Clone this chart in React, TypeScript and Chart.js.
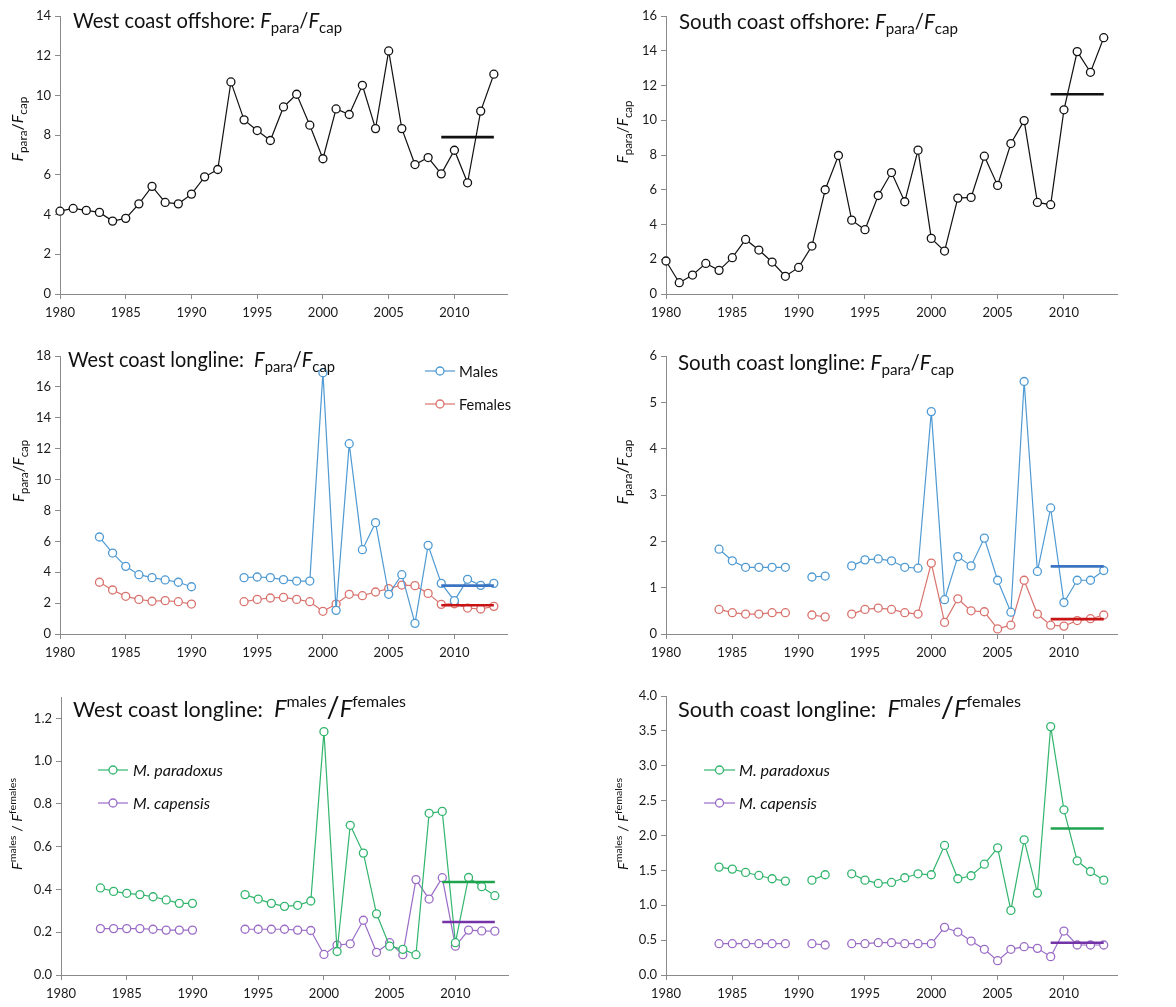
import React, { useEffect, useRef } from 'react';
import { Chart, registerables } from 'chart.js';

Chart.register(...registerables);

const FONT = 'Lato, "Open Sans", "DejaVu Sans", sans-serif';

// ---------- data ----------
const years = [
  1980, 1981, 1982, 1983, 1984, 1985, 1986, 1987, 1988, 1989,
  1990, 1991, 1992, 1993, 1994, 1995, 1996, 1997, 1998, 1999,
  2000, 2001, 2002, 2003, 2004, 2005, 2006, 2007, 2008, 2009,
  2010, 2011, 2012, 2013,
];

const xTicks = [1980, 1985, 1990, 1995, 2000, 2005, 2010];

const westOffshore = [
  4.17, 4.31, 4.21, 4.11, 3.67, 3.81, 4.54, 5.42, 4.61, 4.54,
  5.03, 5.9, 6.27, 10.68, 8.77, 8.23, 7.73, 9.42, 10.06, 8.5,
  6.81, 9.32, 9.04, 10.51, 8.33, 12.24, 8.33, 6.52, 6.87, 6.05,
  7.24, 5.6, 9.21, 11.07,
];
const southOffshore = [
  1.9, 0.65, 1.09, 1.76, 1.36, 2.09, 3.14, 2.53, 1.84, 1.02,
  1.53, 2.76, 6.0, 7.97, 4.25, 3.7, 5.67, 6.99, 5.31, 8.28,
  3.2, 2.47, 5.52, 5.56, 7.93, 6.25, 8.66, 9.98, 5.27, 5.14,
  10.6, 13.95, 12.76, 14.75,
];
const westLonglineMales = [
  null, null, null, 6.28, 5.24, 4.38, 3.84, 3.65, 3.5, 3.35,
  3.06, null, null, null, 3.65, 3.69, 3.65, 3.52, 3.43, 3.43,
  16.92, 1.53, 12.32, 5.46, 7.21, 2.57, 3.84, 0.69, 5.74, 3.28,
  2.16, 3.54, 3.15, 3.28,
];
const westLonglineFemales = [
  null, null, null, 3.35, 2.85, 2.44, 2.24, 2.12, 2.16, 2.09,
  1.94, null, null, null, 2.09, 2.24, 2.33, 2.37, 2.24, 2.09,
  1.47, 1.94, 2.57, 2.48, 2.72, 2.94, 3.17, 3.13, 2.63, 1.92,
  1.96, 1.68, 1.62, 1.79,
];
const southLonglineMales = [
  null, null, null, null, 1.83, 1.58, 1.44, 1.44, 1.44, 1.44,
  null, 1.23, 1.25, null, 1.47, 1.6, 1.62, 1.58, 1.44, 1.42,
  4.8, 0.74, 1.67, 1.47, 2.07, 1.16, 0.47, 5.45, 1.35, 2.72,
  0.68, 1.16, 1.16, 1.37,
];
const southLonglineFemales = [
  null, null, null, null, 0.53, 0.46, 0.43, 0.43, 0.46, 0.46,
  null, 0.41, 0.37, null, 0.43, 0.53, 0.56, 0.53, 0.46, 0.43,
  1.53, 0.25, 0.76, 0.5, 0.48, 0.11, 0.19, 1.16, 0.43, 0.19,
  0.17, 0.29, 0.33, 0.41,
];
const westRatioParadoxus = [
  null, null, null, 0.407, 0.391, 0.382, 0.376, 0.366, 0.351, 0.335,
  0.335, null, null, null, 0.376, 0.355, 0.335, 0.321, 0.326, 0.346,
  1.138, 0.11, 0.7, 0.57, 0.286, 0.135, 0.12, 0.095, 0.756, 0.765,
  0.151, 0.456, 0.413, 0.371,
];
const westRatioCapensis = [
  null, null, null, 0.217, 0.217, 0.217, 0.217, 0.214, 0.21, 0.21,
  0.21, null, null, null, 0.214, 0.214, 0.214, 0.214, 0.21, 0.208,
  0.096, 0.14, 0.146, 0.256, 0.106, 0.151, 0.095, 0.446, 0.355, 0.455,
  0.135, 0.21, 0.206, 0.205,
];
const southRatioParadoxus = [
  null, null, null, null, 1.547, 1.518, 1.47, 1.427, 1.38, 1.346,
  null, 1.36, 1.437, null, 1.451, 1.36, 1.313, 1.327, 1.394, 1.451,
  1.437, 1.857, 1.38, 1.423, 1.589, 1.823, 0.926, 1.938, 1.174, 3.561,
  2.368, 1.637, 1.484, 1.36,
];
const southRatioCapensis = [
  null, null, null, null, 0.449, 0.449, 0.449, 0.449, 0.449, 0.449,
  null, 0.449, 0.43, null, 0.449, 0.449, 0.463, 0.463, 0.449, 0.449,
  0.449, 0.683, 0.616, 0.487, 0.368, 0.205, 0.368, 0.406, 0.382, 0.263,
  0.63, 0.43, 0.43, 0.43,
];

// recent-period averages (2009-2013)
const meanStart = 2009;
const meanEnd = 2013;
const meanWestOffshore = 7.9;
const meanSouthOffshore = 11.5;
const meanWestMales = 3.13;
const meanWestFemales = 1.86;
const meanSouthMales = 1.46;
const meanSouthFemales = 0.32;
const meanWestParadoxus = 0.435;
const meanWestCapensis = 0.248;
const meanSouthParadoxus = 2.1;
const meanSouthCapensis = 0.463;

const ticksWestOffshore = [0, 2, 4, 6, 8, 10, 12, 14];
const ticksSouthOffshore = [0, 2, 4, 6, 8, 10, 12, 14, 16];
const ticksWestLongline = [0, 2, 4, 6, 8, 10, 12, 14, 16, 18];
const ticksSouthLongline = [0, 1, 2, 3, 4, 5, 6];
const ticksWestRatio = [0, 0.2, 0.4, 0.6, 0.8, 1.0, 1.2];
const ticksSouthRatio = [0, 0.5, 1.0, 1.5, 2.0, 2.5, 3.0, 3.5, 4.0];

// ---------- styles ----------
const BLACK = '#111111';
const BLUE = '#4f9ad3';
const RED = '#d9736e';
const GREEN = '#33b56e';
const PURPLE = '#9a6cc6';
const BLUE_MEAN = '#3b74c2';
const RED_MEAN = '#c81414';
const GREEN_MEAN = '#1fa34f';
const PURPLE_MEAN = '#7434a8';
const AXIS = '#8a8a8a';

type Seg = { t: string; i?: boolean; sub?: boolean; sup?: boolean; k?: number };

const fparaFcap: Seg[] = [
  { t: 'F', i: true }, { t: 'para', sub: true }, { t: '/' }, { t: 'F', i: true }, { t: 'cap', sub: true },
];
const fmalesFfemales: Seg[] = [
  { t: 'F', i: true, k: 1.1 }, { t: 'males', sup: true }, { t: '/', k: 1.35 },
  { t: 'F', i: true, k: 1.1 }, { t: 'females', sup: true },
];
const fmalesFfemalesAxis: Seg[] = [
  { t: 'F', i: true }, { t: 'males', sup: true }, { t: ' / ' },
  { t: 'F', i: true }, { t: 'females', sup: true },
];

function segSize(s: Seg, size: number) {
  return size * (s.k ?? (s.sub || s.sup ? 0.74 : 1));
}
function segFont(s: Seg, size: number) {
  return `${s.i ? 'italic ' : ''}${segSize(s, size)}px ${FONT}`;
}
function measureRich(ctx: CanvasRenderingContext2D, segs: Seg[], size: number) {
  let w = 0;
  for (const s of segs) {
    ctx.font = segFont(s, size);
    w += ctx.measureText(s.t).width;
  }
  return w;
}
// draws rich text at a given font size, compressed horizontally to a target width
function drawRich(
  ctx: CanvasRenderingContext2D,
  segs: Seg[],
  x: number,
  y: number,
  size: number,
  targetW: number,
) {
  const w = measureRich(ctx, segs, size);
  const sx = targetW / w;
  ctx.save();
  ctx.translate(x, y);
  ctx.scale(sx, 1);
  ctx.textBaseline = 'alphabetic';
  ctx.textAlign = 'left';
  let cx = 0;
  for (const s of segs) {
    ctx.font = segFont(s, size);
    const dy = s.sub ? size * 0.24 : s.sup ? -size * 0.46 : 0;
    ctx.fillText(s.t, cx, dy);
    cx += ctx.measureText(s.t).width;
  }
  ctx.restore();
}

type Series = { data: (number | null)[]; color: string; order: number };
type Mean = { value: number; color: string };
type LegendItem = { label: string; color: string; italic?: boolean };

type PanelCfg = {
  box: { l: number; t: number; w: number; h: number };
  area: { l: number; t: number; r: number; b: number };
  yMax: number;
  yTicks: number[];
  yDec: number;
  series: Series[];
  means: Mean[];
  title: Seg[];
  titleX: number;
  titleBase: number;
  titleW: number;
  yTitle: Seg[];
  yTitleSize: number;
  yTitleBase: number;
  yTitleCY: number;
  yTitleLen: number;
  legend?: { items: LegendItem[]; widths: number[]; x0: number; x1: number; textX: number; y0: number; dy: number };
};

const TITLE_SIZE = 21.5;
const LEGEND_SIZE = 16;

const LEFT_BOX = { l: 0, w: 588 };
const RIGHT_BOX = { l: 588, w: 588 };

const panels: PanelCfg[] = [
  {
    box: { ...LEFT_BOX, t: 0, h: 330 },
    area: { l: 60, t: 16, r: 507, b: 294 },
    yMax: 14, yTicks: ticksWestOffshore, yDec: 0,
    series: [{ data: westOffshore, color: BLACK, order: 1 }],
    means: [{ value: meanWestOffshore, color: BLACK }],
    title: [{ t: 'West coast offshore: ' }, ...fparaFcap],
    titleX: 73, titleBase: 28, titleW: 269,
    yTitle: fparaFcap, yTitleSize: 15, yTitleBase: 23, yTitleCY: 129, yTitleLen: 65,
  },
  {
    box: { ...RIGHT_BOX, t: 0, h: 330 },
    area: { l: 666, t: 16, r: 1117, b: 294 },
    yMax: 16, yTicks: ticksSouthOffshore, yDec: 0,
    series: [{ data: southOffshore, color: BLACK, order: 1 }],
    means: [{ value: meanSouthOffshore, color: BLACK }],
    title: [{ t: 'South coast offshore: ' }, ...fparaFcap],
    titleX: 679, titleBase: 29, titleW: 279,
    yTitle: fparaFcap, yTitleSize: 15, yTitleBase: 628, yTitleCY: 132, yTitleLen: 63,
  },
  {
    box: { ...LEFT_BOX, t: 330, h: 338 },
    area: { l: 60, t: 356, r: 507, b: 634 },
    yMax: 18, yTicks: ticksWestLongline, yDec: 0,
    series: [
      { data: westLonglineMales, color: BLUE, order: 1 },
      { data: westLonglineFemales, color: RED, order: 2 },
    ],
    means: [{ value: meanWestMales, color: BLUE_MEAN }, { value: meanWestFemales, color: RED_MEAN }],
    title: [{ t: 'West coast longline:  ' }, ...fparaFcap],
    titleX: 68, titleBase: 367, titleW: 267,
    yTitle: fparaFcap, yTitleSize: 15, yTitleBase: 24, yTitleCY: 471, yTitleLen: 62,
    legend: {
      items: [{ label: 'Males', color: BLUE }, { label: 'Females', color: RED }],
      widths: [39, 52],
      x0: 425, x1: 455, textX: 459, y0: 371, dy: 33,
    },
  },
  {
    box: { ...RIGHT_BOX, t: 330, h: 338 },
    area: { l: 666, t: 356, r: 1117, b: 634 },
    yMax: 6, yTicks: ticksSouthLongline, yDec: 0,
    series: [
      { data: southLonglineMales, color: BLUE, order: 1 },
      { data: southLonglineFemales, color: RED, order: 2 },
    ],
    means: [{ value: meanSouthMales, color: BLUE_MEAN }, { value: meanSouthFemales, color: RED_MEAN }],
    title: [{ t: 'South coast longline: ' }, ...fparaFcap],
    titleX: 678, titleBase: 370, titleW: 276,
    yTitle: fparaFcap, yTitleSize: 15, yTitleBase: 628, yTitleCY: 472, yTitleLen: 65,
  },
  {
    box: { ...LEFT_BOX, t: 668, h: 339 },
    area: { l: 61, t: 697, r: 508, b: 975 },
    yMax: 1.3, yTicks: ticksWestRatio, yDec: 1,
    series: [
      { data: westRatioParadoxus, color: GREEN, order: 1 },
      { data: westRatioCapensis, color: PURPLE, order: 2 },
    ],
    means: [{ value: meanWestParadoxus, color: GREEN_MEAN }, { value: meanWestCapensis, color: PURPLE_MEAN }],
    title: [{ t: 'West coast longline:  ' }, ...fmalesFfemales],
    titleX: 73, titleBase: 717, titleW: 333,
    yTitle: fmalesFfemalesAxis, yTitleSize: 14, yTitleBase: 22, yTitleCY: 824, yTitleLen: 92,
    legend: {
      items: [
        { label: 'M. paradoxus', color: GREEN, italic: true },
        { label: 'M. capensis', color: PURPLE, italic: true },
      ],
      widths: [90, 77],
      x0: 98, x1: 128, textX: 133, y0: 770, dy: 33,
    },
  },
  {
    box: { ...RIGHT_BOX, t: 668, h: 339 },
    area: { l: 666, t: 696, r: 1117, b: 975 },
    yMax: 4, yTicks: ticksSouthRatio, yDec: 1,
    series: [
      { data: southRatioParadoxus, color: GREEN, order: 1 },
      { data: southRatioCapensis, color: PURPLE, order: 2 },
    ],
    means: [{ value: meanSouthParadoxus, color: GREEN_MEAN }, { value: meanSouthCapensis, color: PURPLE_MEAN }],
    title: [{ t: 'South coast longline:  ' }, ...fmalesFfemales],
    titleX: 678, titleBase: 717, titleW: 343,
    yTitle: fmalesFfemalesAxis, yTitleSize: 14, yTitleBase: 628, yTitleCY: 824, yTitleLen: 92,
    legend: {
      items: [
        { label: 'M. paradoxus', color: GREEN, italic: true },
        { label: 'M. capensis', color: PURPLE, italic: true },
      ],
      widths: [91, 78],
      x0: 704, x1: 735, textX: 739, y0: 770, dy: 33,
    },
  },
];

function Panel({ cfg }: { cfg: PanelCfg }) {
  const ref = useRef<HTMLCanvasElement | null>(null);

  useEffect(() => {
    const canvas = ref.current;
    if (!canvas) return;
    const { box, area } = cfg;
    const ox = box.l;
    const oy = box.t;

    const datasets: any[] = [];
    cfg.series.forEach((s) => {
      datasets.push({
        data: years.map((y, i) => ({ x: y, y: s.data[i] })),
        borderColor: s.color,
        backgroundColor: '#ffffff',
        borderWidth: 1.2,
        pointRadius: 4,
        pointBorderWidth: 1.3,
        pointBackgroundColor: '#ffffff',
        pointBorderColor: s.color,
        spanGaps: false,
        tension: 0,
        order: s.order,
        clip: false,
      });
    });
    cfg.means.forEach((m) => {
      datasets.push({
        data: [
          { x: meanStart, y: m.value },
          { x: meanEnd, y: m.value },
        ],
        borderColor: m.color,
        borderWidth: 2.6,
        pointRadius: 0,
        order: 0,
        clip: false,
      });
    });

    const overlay = {
      id: 'overlay',
      afterDraw(chart: any) {
        const ctx: CanvasRenderingContext2D = chart.ctx;
        ctx.save();
        ctx.fillStyle = '#111111';
        // title
        drawRich(ctx, cfg.title, cfg.titleX - ox, cfg.titleBase - oy, TITLE_SIZE, cfg.titleW);
        // y title
        ctx.save();
        ctx.translate(cfg.yTitleBase - ox, cfg.yTitleCY - oy);
        ctx.rotate(-Math.PI / 2);
        drawRich(ctx, cfg.yTitle, -cfg.yTitleLen / 2, 0, cfg.yTitleSize, cfg.yTitleLen);
        ctx.restore();
        // legend
        const lg = cfg.legend;
        if (lg) {
          lg.items.forEach((it, k) => {
            const y = lg.y0 + k * lg.dy - oy;
            ctx.strokeStyle = it.color;
            ctx.lineWidth = 1.2;
            ctx.beginPath();
            ctx.moveTo(lg.x0 - ox, y);
            ctx.lineTo(lg.x1 - ox, y);
            ctx.stroke();
            ctx.beginPath();
            ctx.fillStyle = '#ffffff';
            ctx.arc((lg.x0 + lg.x1) / 2 - ox, y, 4, 0, Math.PI * 2);
            ctx.fill();
            ctx.lineWidth = 1.3;
            ctx.stroke();
            ctx.fillStyle = '#111111';
            drawRich(ctx, [{ t: it.label, i: !!it.italic }], lg.textX - ox, y + 5.5, LEGEND_SIZE, lg.widths[k]);
          });
        }
        ctx.restore();
      },
    };

    const yW = area.l - box.l;
    const xH = box.t + box.h - area.b;

    const chart = new Chart(canvas, {
      type: 'line',
      data: { datasets },
      plugins: [overlay],
      options: {
        animation: false,
        responsive: false,
        devicePixelRatio: 1,
        layout: {
          padding: {
            left: 0,
            top: area.t - box.t,
            right: box.l + box.w - area.r,
            bottom: 0,
          },
        },
        plugins: {
          legend: { display: false },
          tooltip: { enabled: false },
          title: { display: false },
        },
        scales: {
          x: {
            type: 'linear',
            min: 1980,
            max: 2014,
            afterBuildTicks: (s: any) => {
              s.ticks = xTicks.map((v) => ({ value: v }));
            },
            afterFit: (s: any) => {
              s.height = xH;
            },
            ticks: {
              autoSkip: false,
              maxRotation: 0,
              padding: 6,
              color: '#1a1a1a',
              font: { family: FONT, size: 13 },
              callback: (v: any) => String(v),
            },
            grid: { display: true, drawOnChartArea: false, drawTicks: true, tickLength: 5, color: AXIS },
            border: { display: true, color: AXIS, width: 1 },
          },
          y: {
            type: 'linear',
            min: 0,
            max: cfg.yMax,
            afterBuildTicks: (s: any) => {
              s.ticks = cfg.yTicks.map((v) => ({ value: v }));
            },
            afterFit: (s: any) => {
              s.width = yW;
            },
            ticks: {
              autoSkip: false,
              padding: 4,
              color: '#1a1a1a',
              font: { family: FONT, size: 13 },
              callback: (v: any) => Number(v).toFixed(cfg.yDec),
            },
            grid: { display: true, drawOnChartArea: false, drawTicks: true, tickLength: 5, color: AXIS },
            border: { display: true, color: AXIS, width: 1 },
          },
        },
      } as any,
    });

    return () => chart.destroy();
  }, [cfg]);

  return (
    <canvas
      ref={ref}
      width={cfg.box.w}
      height={cfg.box.h}
      style={{
        position: 'absolute',
        left: cfg.box.l,
        top: cfg.box.t,
        width: cfg.box.w,
        height: cfg.box.h,
      }}
    />
  );
}

export default function App() {
  return (
    <div
      style={{
        position: 'absolute',
        left: 0,
        top: 0,
        width: 1176,
        height: 1007,
        background: '#ffffff',
        overflow: 'hidden',
      }}
    >
      {panels.map((p, i) => (
        <Panel key={i} cfg={p} />
      ))}
    </div>
  );
}
